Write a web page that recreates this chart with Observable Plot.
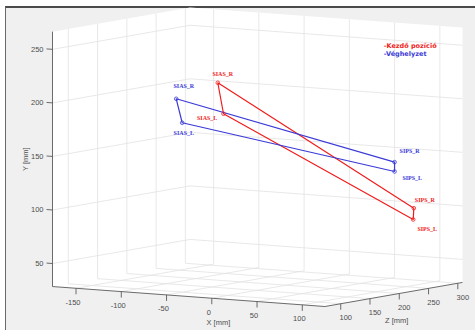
<!DOCTYPE html>
<html><head><meta charset="utf-8">
<script src="https://cdn.jsdelivr.net/npm/d3@7"></script>
<script src="https://cdn.jsdelivr.net/npm/@observablehq/plot@0.6"></script>
<style>
html,body{margin:0;padding:0;background:#fff;}
#wrap{position:relative;width:475px;height:330px;overflow:hidden;}
#fig{position:absolute;left:5px;top:6px;right:0;bottom:0;background:#f0f0f0;border-top:2px solid #4a4a4a;border-left:1.5px solid #6a6a6a;}
#chart{position:absolute;left:0;top:0;}
</style></head><body>
<div id="wrap"><div id="fig"></div><div id="chart"></div></div>
<script>
// ---------- data ----------
const markerNames = ["SIAS_R", "SIAS_L", "SIPS_L", "SIPS_R"];
const seriesNames = ["-Kezdő pozíció", "-Véghelyzet"];
// Kezdő pozíció (start)
const startX = [-36.7, -114.5, 82.2, 115.2];
const startY = [221.0, 174.8, 86.3, 103.7];
const startZ = [140, 270, 290, 240];
// Véghelyzet (end)
const endX = [-69.7, -147.2, 74.5, 119.8];
const endY = [205.9, 166.3, 132.6, 150.8];
const endZ = [120, 250, 270, 200];
// axes
const xTicks = [-150, -100, -50, 0, 50, 100];
const yTicks = [50, 100, 150, 200, 250];
const zTicks = [100, 150, 200, 250, 300];
const xLim = [-176, 125];
const yLim = [28.5, 266.5];
const zLim = [73, 308];

// ---------- styling / view ----------
const az = 32.9 * Math.PI / 180, el = 6.5 * Math.PI / 180;
const RED = "#f01c1c", BLUE = "#3a3ad8";
const labelOffsets = { // px offsets of point labels
  start: [[5, -8.3], [-16.3, 4.4], [14, 9.3], [11, -7.7]],
  end: [[7.6, -12.6], [1.6, 10], [17.7, 6.7], [15, -11]]
};
const legendAt = [38, 244.3, 308], legendStep = 7.5;

// orthographic projection (equal aspect)
const P = (x, y, z) => x * Math.cos(az) + z * Math.sin(az);
const Q = (x, y, z) => y * Math.cos(el) - Math.sin(el) * (x * Math.sin(az) - z * Math.cos(az));
const [x0, x1] = xLim, [y0, y1] = yLim, [z0, z1] = zLim;
const pmin = P(x0, 0, z0), pmax = P(x1, 0, z1);
const qmin = Q(x1, y0, z0), qmax = Q(x0, y1, z1);
const k = (462 - 52) / (pmax - pmin);
const pt = (a) => ({u: P(...a), v: Q(...a)});
const seg = (a, b) => ({u1: P(...a), v1: Q(...a), u2: P(...b), v2: Q(...b)});

// box background (three back faces)
const hexagon = [[x0,y0,z0],[x1,y0,z0],[x1,y0,z1],[x1,y1,z1],[x0,y1,z1],[x0,y1,z0],[x0,y0,z0]].map(pt);

// grid
const grid = [];
for (const X of xTicks) { grid.push(seg([X,y0,z0],[X,y0,z1])); grid.push(seg([X,y0,z1],[X,y1,z1])); }
for (const Z of zTicks) { grid.push(seg([x0,y0,Z],[x1,y0,Z])); grid.push(seg([x0,y0,Z],[x0,y1,Z])); }
for (const Y of yTicks) { grid.push(seg([x0,Y,z0],[x0,Y,z1])); grid.push(seg([x0,Y,z1],[x1,Y,z1])); }

const axes = [seg([x0,y0,z0],[x0,y1,z0]), seg([x0,y0,z0],[x1,y0,z0]), seg([x1,y0,z0],[x1,y0,z1])];
const tl = 5.6; // tick length in mm
const ticks = [
  ...xTicks.map(X => seg([X,y0,z0],[X,y0-tl,z0])),
  ...zTicks.map(Z => seg([x1,y0,Z],[x1,y0-tl,Z])),
  ...yTicks.map(Y => seg([x0,Y,z0],[x0-6.6,Y,z0]))
];
const xLabels = xTicks.map(X => ({...pt([X,y0,z0]), t: String(X)}));
const yLabels = yTicks.map(Y => ({...pt([x0,Y,z0]), t: String(Y)}));
const zLabels = zTicks.map(Z => ({...pt([x1,y0,Z]), t: String(Z)}));

// series rows
function rows(X, Y, Z, s, key) {
  return markerNames.map((n, i) => {
    const p = pt([X[i], Y[i], Z[i]]);
    const [dx, dy] = labelOffsets[key][i];
    return {...p, name: n, series: s, lu: p.u + dx / k, lv: p.v - dy / k};
  });
}
const startRows = rows(startX, startY, startZ, seriesNames[0], "start");
const endRows = rows(endX, endY, endZ, seriesNames[1], "end");
const loop = r => [...r, r[0]];

const colorScale = {domain: seriesNames, range: [RED, BLUE]};
const lg0 = pt(legendAt), lg1 = pt([legendAt[0], legendAt[1] - legendStep, legendAt[2]]);

const chart = Plot.plot({
  width: 475, height: 330,
  marginTop: 0, marginRight: 0, marginBottom: 0, marginLeft: 0,
  x: {domain: [pmin, pmax], range: [52, 462], axis: null},
  y: {domain: [qmin, qmax], range: [306, 306 - k * (qmax - qmin)], axis: null},
  color: colorScale,
  style: {background: "transparent", fontFamily: "'Liberation Sans', Arial, sans-serif", fontSize: "7.5px", overflow: "visible"},
  marks: [
    Plot.line(hexagon, {x: "u", y: "v", fill: "white", stroke: "none", curve: "linear-closed"}),
    Plot.link(grid, {x1: "u1", y1: "v1", x2: "u2", y2: "v2", stroke: "#e2e2e2", strokeWidth: 0.8}),
    Plot.link(axes, {x1: "u1", y1: "v1", x2: "u2", y2: "v2", stroke: "#5a5a5a", strokeWidth: 0.9}),
    Plot.link(ticks, {x1: "u1", y1: "v1", x2: "u2", y2: "v2", stroke: "#5a5a5a", strokeWidth: 0.9}),
    Plot.text(xLabels, {x: "u", y: "v", text: "t", dx: -3, dy: 14, fill: "#4d4d4d"}),
    Plot.text(zLabels, {x: "u", y: "v", text: "t", dx: 5, dy: 14, fill: "#4d4d4d"}),
    Plot.text(yLabels, {x: "u", y: "v", text: "t", dx: -9, textAnchor: "end", fill: "#4d4d4d"}),
    Plot.text([pt([4, y0, z0])], {x: "u", y: "v", text: () => "X [mm]", dy: 24, dx: 3, fill: "#4d4d4d"}),
    Plot.text([pt([x1, y0, 187])], {x: "u", y: "v", text: () => "Z [mm]", dy: 26, dx: 5, fill: "#4d4d4d"}),
    Plot.text([pt([x0, 147.5, z0])], {x: "u", y: "v", text: () => "Y [mm]", dx: -27, rotate: -90, fill: "#4d4d4d"}),
    Plot.line(loop(startRows), {x: "u", y: "v", stroke: "series", strokeWidth: 1.2}),
    Plot.line(loop(endRows), {x: "u", y: "v", stroke: "series", strokeWidth: 1.2}),
    Plot.dot([...startRows, ...endRows], {x: "u", y: "v", stroke: "series", r: 1.8, strokeWidth: 0.8}),
    Plot.text([...startRows, ...endRows], {x: "lu", y: "lv", text: "name", fill: "series",
      fontFamily: "'Liberation Serif', 'DejaVu Serif', serif", fontWeight: "bold", fontSize: 6}),
    Plot.text([lg0], {x: "u", y: "v", text: () => seriesNames[0], fill: RED, textAnchor: "start",
      fontFamily: "'DejaVu Sans', sans-serif", fontWeight: "bold", fontSize: 6.5}),
    Plot.text([lg1], {x: "u", y: "v", text: () => seriesNames[1], fill: BLUE, textAnchor: "start",
      fontFamily: "'DejaVu Sans', sans-serif", fontWeight: "bold", fontSize: 6.5})
  ]
});
document.getElementById("chart").appendChild(chart);
</script>
</body></html>
